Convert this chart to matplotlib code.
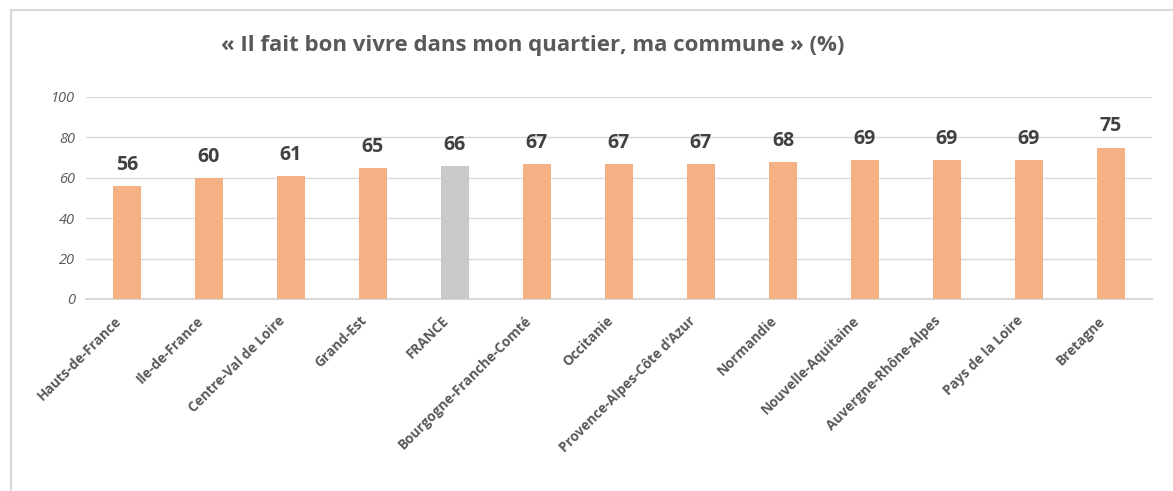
import matplotlib.pyplot as plt
from matplotlib.lines import Line2D
from matplotlib.transforms import ScaledTranslation

regions = ["Hauts-de-France", "Ile-de-France", "Centre-Val de Loire", "Grand-Est",
           "FRANCE", "Bourgogne-Franche-Comté", "Occitanie", "Provence-Alpes-Côte d'Azur",
           "Normandie", "Nouvelle-Aquitaine", "Auvergne-Rhône-Alpes", "Pays de la Loire",
           "Bretagne"]
values = [56, 60, 61, 65, 66, 67, 67, 67, 68, 69, 69, 69, 75]
yticks = [0, 20, 40, 60, 80, 100]

orange = "#F4B183"
grey = "#C9C9C9"
colors = [grey if r == "FRANCE" else orange for r in regions]

plt.rcParams['font.family'] = ['Open Sans', 'DejaVu Sans']

W, H = 1173, 491
fig = plt.figure(figsize=(W / 100, H / 100), dpi=100)

# plot area in pixels: x 86..1152, y 97 (100) .. 299 (0)
left, right = 86, 1152
top_px, bot_px = 97, 299
ax = fig.add_axes([left / W, 1 - bot_px / H, (right - left) / W, (bot_px - top_px) / H])

x = list(range(len(regions)))
ax.bar(x, values, width=0.33, color=colors, zorder=3)
ax.set_xlim(-0.5, len(regions) - 0.5)
ax.set_ylim(0, 100)

for xi, v in zip(x, values):
    ax.text(xi, v + 5.5, str(v), ha='center', va='bottom', fontsize=14,
            fontweight='bold', color='#404040')

ax.set_yticks(yticks)
ax.set_yticklabels([str(t) for t in yticks], fontsize=10.5, style='italic', color='#595959')
ax.yaxis.grid(True, color='#D9D9D9', linewidth=1, zorder=0)
ax.tick_params(axis='y', length=0, pad=8)
ax.tick_params(axis='x', length=0, pad=4)

ax.set_xticks(x)
ax.set_xticklabels(regions, rotation=45, ha='right', rotation_mode='anchor',
                   fontsize=9.8, fontweight='bold', color='#595959')
shift = ScaledTranslation(-13 / 100, -9 / 100, fig.dpi_scale_trans)
for t in ax.get_xticklabels():
    t.set_transform(t.get_transform() + shift)

for s in ['top', 'right', 'left']:
    ax.spines[s].set_visible(False)
ax.spines['bottom'].set_color('#D9D9D9')
ax.spines['bottom'].set_linewidth(1.5)

fig.text(533 / W, 1 - 45 / H, "« Il fait bon vivre dans mon quartier, ma commune » (%)",
         ha='center', va='center', fontsize=16, fontweight='bold', color='#595959')

# outer frame (top and left edges visible)
fig.add_artist(Line2D([11 / W, 1], [1 - 10 / H, 1 - 10 / H], color='#D9D9D9',
                      linewidth=1.5, transform=fig.transFigure))
fig.add_artist(Line2D([11 / W, 11 / W], [0, 1 - 10 / H], color='#D9D9D9',
                      linewidth=1.5, transform=fig.transFigure))

fig.savefig("out.png", dpi=100, facecolor='white')
